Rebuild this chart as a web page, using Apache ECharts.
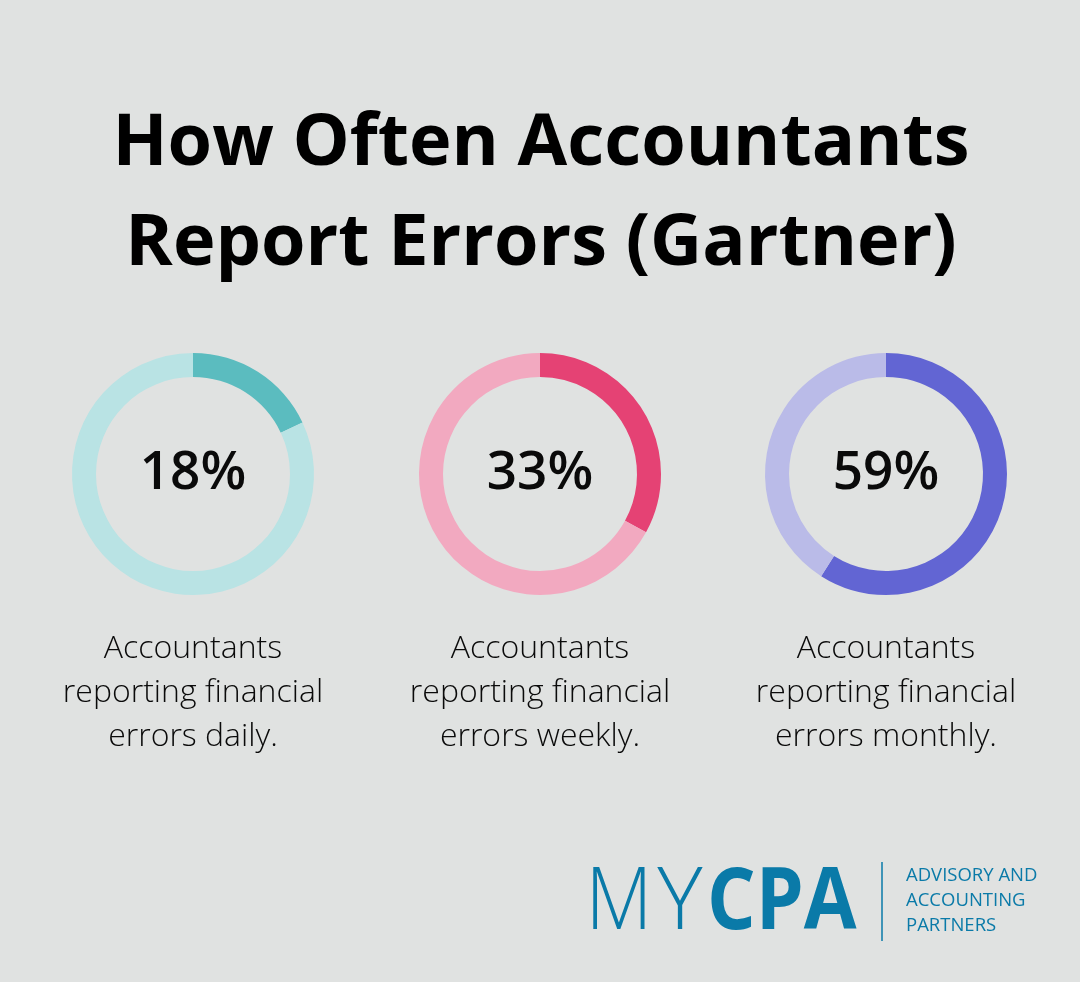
<!DOCTYPE html>
<html><head><meta charset="utf-8">
<script src="https://cdn.jsdelivr.net/npm/echarts@6/dist/echarts.min.js"></script>
<style>html,body{margin:0;padding:0;background:#e0e2e1}#c{width:1080px;height:982px}</style>
</head><body><div id="c"></div>
<script>
const titleLines = ['How Often Accountants', 'Report Errors (Gartner)'];
const percents = [18, 33, 59];
const descriptions = [
  'Accountants\nreporting financial\nerrors daily.',
  'Accountants\nreporting financial\nerrors weekly.',
  'Accountants\nreporting financial\nerrors monthly.'
];
const darkColors = ['#5bbcbf', '#e54274', '#6265d3'];
const lightColors = ['#b9e3e4', '#f2a9c0', '#babbe8'];
const centersX = [193, 540, 886];

const chart = echarts.init(document.getElementById('c'));
const series = percents.map((p, i) => ({
  type: 'pie',
  center: [centersX[i], 474],
  radius: [97, 121],
  startAngle: 90,
  clockwise: true,
  silent: true,
  label: { show: false },
  labelLine: { show: false },
  emphasis: { disabled: true },
  itemStyle: { borderWidth: 0 },
  data: [
    { value: p, itemStyle: { color: darkColors[i] } },
    { value: 100 - p, itemStyle: { color: lightColors[i] } }
  ]
}));

const graphics = [];
percents.forEach((p, i) => {
  graphics.push({
    type: 'text', x: centersX[i], y: 474,
    style: { text: p + '%', align: 'center', verticalAlign: 'middle',
      font: '600 53px "Open Sans"', fill: '#0a0a0a' }
  });
  graphics.push({
    type: 'text', x: centersX[i], y: 627,
    style: { text: descriptions[i], align: 'center', verticalAlign: 'top',
      font: '300 32px "Open Sans"', lineHeight: 44, fill: '#0a0a0a' }
  });
});

const logoColor = '#0a7aa8';
graphics.push(
  { type: 'text', x: 541, y: 194,
    style: { text: titleLines.join('\n'), align: 'center', verticalAlign: 'middle',
      font: '700 72px "Open Sans"', lineHeight: 100, fill: '#000' } },
  { type: 'text', x: 619, y: 904, scaleX: 0.9,
    style: { text: 'M', align: 'center', verticalAlign: 'middle',
      font: '200 86px "Open Sans"', fill: logoColor } },
  { type: 'text', x: 680, y: 904,
    style: { text: 'Y', align: 'center', verticalAlign: 'middle',
      font: '200 86px "Open Sans"', fill: logoColor } },
  { type: 'text', x: 707, y: 904, scaleX: 0.89,
    style: { text: 'CPA', align: 'left', verticalAlign: 'middle',
      font: '700 86px "Open Sans"', fill: logoColor } },
  { type: 'line', shape: { x1: 882, y1: 862, x2: 882, y2: 941 },
    style: { stroke: logoColor, lineWidth: 1.5 } },
  { type: 'text', x: 906, y: 901,
    style: { text: 'ADVISORY AND\nACCOUNTING\nPARTNERS', align: 'left', verticalAlign: 'middle',
      font: '500 18.5px "Open Sans"', lineHeight: 25, fill: logoColor } }
);

chart.setOption({
  backgroundColor: '#e0e2e1',
  animation: false,
  series: series,
  graphic: graphics
});
</script></body></html>
